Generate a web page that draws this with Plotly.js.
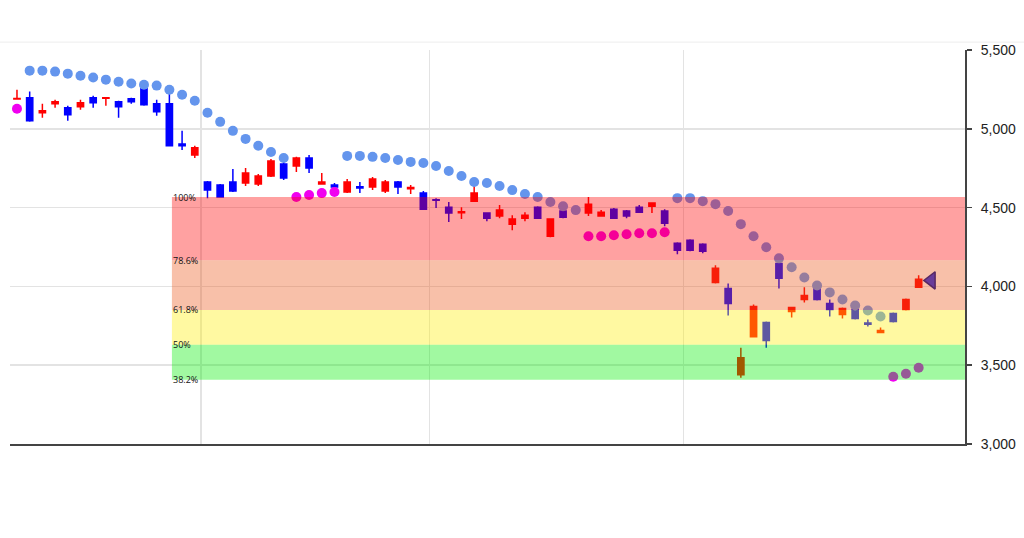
<!DOCTYPE html>
<html>
<head>
<meta charset="utf-8">
<script src="https://cdn.plot.ly/plotly-3.0.1.min.js"></script>
<style>
  html, body { margin: 0; padding: 0; background: #ffffff; }
  #chart { width: 1024px; height: 538px; }
</style>
</head>
<body>
<div id="chart"></div>
<script>
// ---- Data ----
const opens  = [5189,5197,5102,5159,5134,5140,5197,5194,5172,5191,5255,5159,5159,4904,4834,4662,4643,4662,4656,4650,
                4701,4777,4764,4815,4650,4643,4599,4633,4630,4605,4662,4620,4592,4550,4503,4468,4541,4465,4446,4395,
                4433,4503,4318,4478,4486,4465,4446,4490,4478,4503,4509,4478,4274,4293,4267,4025,3987,3439,3681,3771,
                4146,3841,3917,3987,3892,3822,3853,3768,3707,3828,3853,3994];
const highs  = [5248,5236,5159,5185,5146,5185,5210,5198,5178,5197,5261,5185,5236,4987,4892,4669,4650,4745,4751,4713,
                4809,4790,4822,4834,4720,4656,4681,4662,4694,4675,4669,4643,4605,4560,4535,4503,4643,4471,4516,4452,
                4471,4509,4433,4490,4492,4567,4484,4497,4484,4516,4532,4490,4280,4299,4274,4134,4019,3611,3885,3777,
                4152,3868,3994,3994,3917,3866,3860,3790,3739,3835,3924,4070];
const lows   = [5187,5045,5070,5134,5051,5121,5134,5146,5070,5159,5146,5083,4888,4866,4815,4560,4562,4599,4637,4637,
                4694,4675,4726,4720,4648,4618,4592,4592,4611,4592,4586,4586,4484,4497,4408,4427,4535,4414,4433,4357,
                4414,4427,4312,4433,4476,4446,4443,4430,4433,4465,4465,4382,4204,4223,4210,4019,3815,3420,3675,3611,
                3987,3803,3898,3911,3809,3796,3790,3745,3705,3771,3847,3990];
const closes = [5192,5051,5115,5172,5089,5165,5165,5197,5140,5172,5153,5108,4892,4892,4879,4611,4567,4605,4720,4701,
                4796,4688,4815,4751,4662,4630,4662,4624,4681,4662,4630,4627,4490,4546,4465,4474,4592,4433,4484,4427,
                4452,4433,4427,4439,4480,4522,4471,4433,4446,4471,4529,4401,4229,4229,4223,4115,3892,3548,3873,3656,
                4051,3866,3943,3917,3853,3860,3796,3760,3720,3777,3917,4045];

// Parabolic SAR values, one per candle
const sarValues = [5127,5369,5369,5363,5350,5337,5325,5312,5299,5287,5280,5274,5248,5216,5178,5102,5044,4987,4936,4892,
                   4853,4815,4567,4580,4592,4599,4828,4828,4822,4815,4802,4790,4783,4764,4732,4701,4662,4656,4637,4611,
                   4586,4567,4535,4509,4484,4318,4318,4325,4331,4337,4337,4344,4560,4560,4541,4522,4478,4395,4318,4248,
                   4178,4121,4057,4006,3962,3917,3879,3847,3809,3427,3446,3484];

// Latest-price marker (next slot after the last candle)
const lastMarkerValue = 4038;

// Month boundaries (vertical grid lines), in candle-index units
const monthBreaks = [14.5, 32.5, 52.5];

// Fibonacci retracement
const fibHigh = 4567;
const fibLow = 2692;
const fibRatios = [1, 0.786, 0.618, 0.5, 0.382];
const fibLabels = ['100%', '78.6%', '61.8%', '50%', '38.2%'];
const fibColors = ['rgba(255,0,0,0.37)', 'rgba(235,84,22,0.37)', 'rgba(255,240,0,0.37)', 'rgba(0,240,0,0.37)'];

// Y axis ticks
const yTickVals = [3000, 3500, 4000, 4500, 5000, 5500];

// ---- Build chart ----
const idx = opens.map((_, i) => i);
const fibStart = 12.2;
const xMin = -0.55, xMax = 74.65;

const candle = {
  type: 'candlestick',
  x: idx, open: opens, high: highs, low: lows, close: closes,
  increasing: { line: { color: '#ff0000', width: 1.5 }, fillcolor: '#ff0000' },
  decreasing: { line: { color: '#0000ff', width: 1.5 }, fillcolor: '#0000ff' },
  whiskerwidth: 0,
  hoverinfo: 'skip',
  showlegend: false
};

const sarColors = sarValues.map((v, i) => v > closes[i] ? '#6495ed' : '#f000f0');
const sar = {
  type: 'scatter', mode: 'markers',
  x: idx, y: sarValues,
  marker: { size: 10, color: sarColors, line: { width: 0 } },
  hoverinfo: 'skip', showlegend: false
};

const lastMarker = {
  type: 'scatter', mode: 'markers',
  x: [opens.length], y: [lastMarkerValue],
  marker: { symbol: 'triangle-left', size: 15, color: '#1e2ee8', line: { color: '#001090', width: 1.5 } },
  hoverinfo: 'skip', showlegend: false
};

const fibLevels = fibRatios.map(r => fibLow + (fibHigh - fibLow) * r);

const shapes = [];
for (let k = 0; k < fibLevels.length - 1; k++) {
  shapes.push({
    type: 'rect', layer: 'above', xref: 'x', yref: 'y',
    x0: fibStart, x1: xMax, y0: fibLevels[k + 1], y1: fibLevels[k],
    fillcolor: fibColors[k], line: { width: 0 }
  });
}
// faint top rule
shapes.push({
  type: 'line', xref: 'paper', yref: 'paper', layer: 'below',
  x0: -0.011, x1: 1.07, y0: 1.02, y1: 1.02,
  line: { color: '#eeeeee', width: 1 }
});

const annotations = fibLevels.map((lv, k) => ({
  xref: 'x', yref: 'y', x: fibStart, y: lv,
  text: fibLabels[k], showarrow: false,
  xanchor: 'left', yanchor: 'middle', xshift: -1,
  font: { family: 'Open Sans, Noto Sans, sans-serif', size: 9, color: '#111' }
}));

const layout = {
  width: 1024, height: 538,
  margin: { l: 10, r: 59, t: 50, b: 94 },
  paper_bgcolor: '#ffffff', plot_bgcolor: '#ffffff',
  showlegend: false,
  xaxis: {
    range: [xMin, xMax],
    rangeslider: { visible: false },
    tickmode: 'array', tickvals: monthBreaks,
    showticklabels: false, ticks: '',
    showgrid: true, gridcolor: '#e3e3e3', gridwidth: 1.5,
    zeroline: false,
    showline: true, linecolor: '#444444', linewidth: 2
  },
  yaxis: {
    side: 'right',
    range: [3000, 5500],
    tickmode: 'array', tickvals: yTickVals,
    tickformat: ',d',
    showgrid: true, gridcolor: '#e3e3e3', gridwidth: 1.5,
    zeroline: false,
    showline: true, linecolor: '#444444', linewidth: 2,
    ticks: 'outside', ticklen: 5, tickcolor: '#444444', tickwidth: 1.5,
    ticklabelstandoff: 6,
    tickfont: { family: 'Liberation Sans, Arial, sans-serif', size: 14, color: '#222222' }
  },
  shapes: shapes,
  annotations: annotations
};

Plotly.newPlot('chart', [candle, sar, lastMarker], layout, { displayModeBar: false, staticPlot: true });
</script>
</body>
</html>
